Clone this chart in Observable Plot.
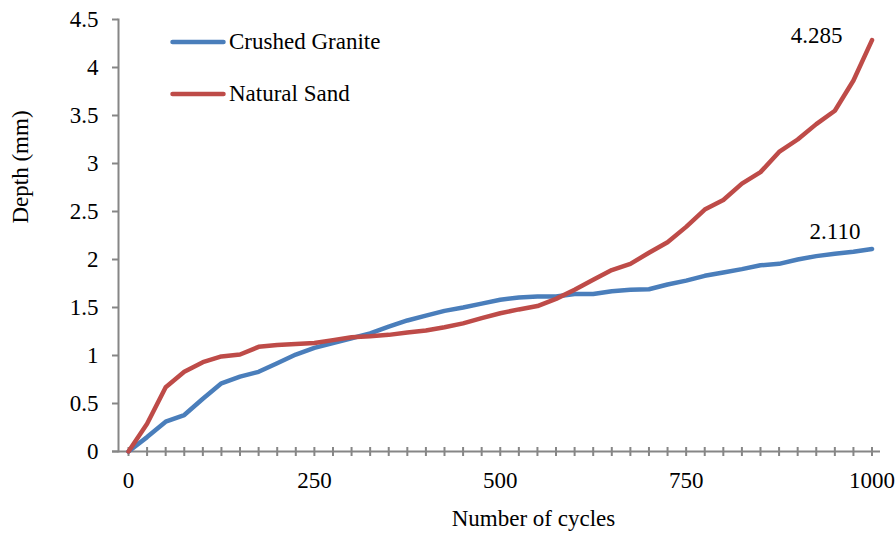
<!DOCTYPE html>
<html>
<head>
<meta charset="utf-8">
<script src="https://cdn.jsdelivr.net/npm/d3@7"></script>
<script src="https://cdn.jsdelivr.net/npm/@observablehq/plot@0.6"></script>
<style>
  html, body { margin: 0; padding: 0; background: #fff; }
  #wrap { position: relative; width: 896px; height: 541px; font-family: "Liberation Serif", "Times New Roman", serif; }
  .leg { position: absolute; left: 170px; height: 24px; display: flex; align-items: center; font-size: 23px; color: #000; white-space: nowrap; }
  .leg svg { display: block; margin-right: 3px; }
</style>
</head>
<body>
<div id="wrap"></div>
<script>
// ---- data ----
const cycles = [0, 25, 50, 75, 100, 125, 150, 175, 200, 225, 250, 275, 300, 325, 350, 375, 400, 425, 450, 475, 500,
                525, 550, 575, 600, 625, 650, 675, 700, 725, 750, 775, 800, 825, 850, 875, 900, 925, 950, 975, 1000];
const crushedGranite = [0, 0.15, 0.31, 0.38, 0.55, 0.71, 0.78, 0.83, 0.92, 1.01, 1.08, 1.13, 1.18, 1.23, 1.30, 1.365, 1.415,
                        1.465, 1.50, 1.54, 1.58, 1.605, 1.615, 1.615, 1.64, 1.64, 1.67, 1.685, 1.69, 1.74, 1.78, 1.83, 1.865,
                        1.90, 1.94, 1.955, 2.00, 2.035, 2.06, 2.08, 2.11];
const naturalSand = [0, 0.29, 0.67, 0.83, 0.93, 0.99, 1.01, 1.09, 1.11, 1.12, 1.13, 1.16, 1.19, 1.20, 1.215, 1.24, 1.26,
                     1.295, 1.335, 1.39, 1.44, 1.48, 1.515, 1.59, 1.685, 1.79, 1.89, 1.955, 2.07, 2.18, 2.34, 2.52, 2.62,
                     2.79, 2.91, 3.12, 3.25, 3.41, 3.55, 3.865, 4.285];
const seriesNames = ["Crushed Granite", "Natural Sand"];
const seriesColors = ["#4A7EBB", "#BE4B48"];
const xTickLabels = [0, 250, 500, 750, 1000];
const xMinorTicks = [0, 25, 50, 75, 100, 125, 150, 175, 200, 225, 250, 275, 300, 325, 350, 375, 400, 425, 450, 475, 500,
                     525, 550, 575, 600, 625, 650, 675, 700, 725, 750, 775, 800, 825, 850, 875, 900, 925, 950, 975, 1000];
const yTicks = [0, 0.5, 1, 1.5, 2, 2.5, 3, 3.5, 4, 4.5];
const endLabels = ["2.110", "4.285"];

// ---- build tables ----
const granite = cycles.map((c, i) => ({cycles: c, depth: crushedGranite[i]}));
const sand = cycles.map((c, i) => ({cycles: c, depth: naturalSand[i]}));
const last = cycles.length - 1;
const ends = [
  {cycles: cycles[last], depth: crushedGranite[last], label: endLabels[0]},
  {cycles: cycles[last], depth: naturalSand[last], label: endLabels[1]}
];

const axisGray = "#868686";
const FS = 23;

const chart = Plot.plot({
  width: 896,
  height: 541,
  marginLeft: 118,
  marginRight: 16,
  marginTop: 19,
  marginBottom: 90,
  style: {fontFamily: "Liberation Serif, 'Times New Roman', serif", fontSize: FS + "px", color: "#000", background: "#fff"},
  x: {domain: [-13.45, 1011.4], label: null},
  y: {domain: [0, 4.5], label: null},
  marks: [
    // axis lines
    Plot.frame({anchor: "left", stroke: axisGray, strokeWidth: 2}),
    Plot.ruleY([0], {stroke: axisGray, strokeWidth: 2, insetLeft: -6}),
    // y ticks + labels
    Plot.axisY({ticks: yTicks, tickSize: 6, stroke: axisGray, strokeWidth: 2, tickFormat: () => "", label: null}),
    Plot.axisY({ticks: yTicks, tickSize: 0, tickPadding: 20, tickFormat: d => String(d), label: null, fill: "#000"}),
    // x ticks (crossing) + labels
    Plot.axisX({ticks: xMinorTicks, tickSize: 9, dy: -4, stroke: axisGray, strokeWidth: 2, tickFormat: () => "", label: null}),
    Plot.axisX({ticks: xTickLabels, tickSize: 0, tickPadding: 20, tickFormat: d => String(d), label: null, fill: "#000"}),
    // series
    Plot.line(granite, {x: "cycles", y: "depth", stroke: seriesColors[0], strokeWidth: 4.5, strokeLinejoin: "round", strokeLinecap: "round"}),
    Plot.line(sand, {x: "cycles", y: "depth", stroke: seriesColors[1], strokeWidth: 4.5, strokeLinejoin: "round", strokeLinecap: "round"}),
    // end labels
    Plot.text([ends[0]], {x: "cycles", y: "depth", text: "label", textAnchor: "end", dx: -11.5, dy: -17.5, fill: "#000", fontSize: FS}),
    Plot.text([ends[1]], {x: "cycles", y: "depth", text: "label", textAnchor: "end", dx: -29.5, dy: -5, fill: "#000", fontSize: FS}),
    // axis titles
    Plot.text(["Number of cycles"], {frameAnchor: "bottom", text: d => d, dx: 34, dy: 74.6, fill: "#000", fontSize: FS}),
    Plot.text(["Depth (mm)"], {frameAnchor: "left", text: d => d, rotate: -90, dx: -97.4, dy: -12, fill: "#000", fontSize: FS})
  ]
});

const wrap = document.getElementById("wrap");
wrap.appendChild(chart);

// legend overlay
const legendTops = [30, 82];
seriesNames.forEach((name, i) => {
  const d = document.createElement("div");
  d.className = "leg";
  d.style.top = legendTops[i] + "px";
  d.innerHTML = `<svg width="56" height="10"><line x1="2.5" y1="5" x2="53.5" y2="5" stroke="${seriesColors[i]}" stroke-width="4.5" stroke-linecap="round"/></svg><span>${name}</span>`;
  wrap.appendChild(d);
});
</script>
</body>
</html>
